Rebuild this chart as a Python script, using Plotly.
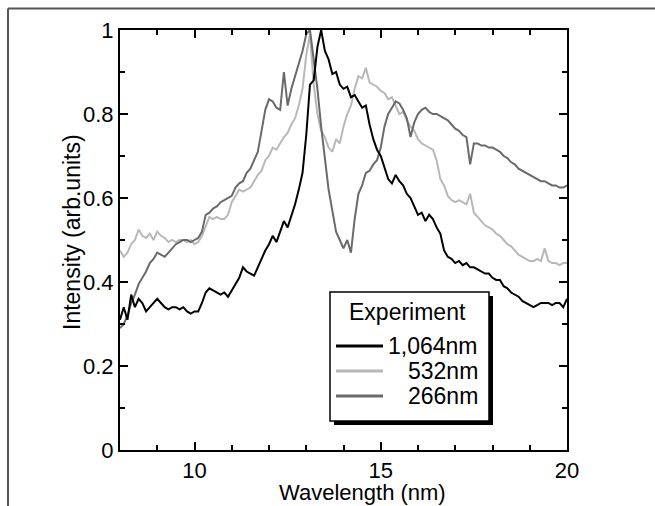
import numpy as np
import plotly.graph_objects as go

# Wavelength grid (nm)
wavelength = np.round(np.arange(8.0, 20.0001, 0.1), 2)

# Series values (normalised intensity)
i_1064 = [0.31, 0.34, 0.31, 0.37, 0.34, 0.36, 0.35, 0.33, 0.34, 0.35,
          0.36, 0.35, 0.34, 0.335, 0.34, 0.34, 0.335, 0.34, 0.33, 0.325,
          0.33, 0.33, 0.35, 0.375, 0.385, 0.38, 0.375, 0.37, 0.375, 0.365,
          0.38, 0.395, 0.41, 0.435, 0.425, 0.42, 0.415, 0.435, 0.455, 0.475,
          0.49, 0.51, 0.495, 0.52, 0.545, 0.53, 0.555, 0.585, 0.62, 0.66,
          0.75, 0.87, 0.88, 0.96, 1.0, 0.95, 0.93, 0.895, 0.9, 0.87,
          0.86, 0.865, 0.84, 0.845, 0.83, 0.815, 0.82, 0.775, 0.74, 0.715,
          0.7, 0.675, 0.645, 0.635, 0.655, 0.64, 0.63, 0.61, 0.6, 0.58,
          0.56, 0.565, 0.545, 0.56, 0.55, 0.53, 0.515, 0.475, 0.46, 0.455,
          0.445, 0.45, 0.44, 0.445, 0.435, 0.435, 0.43, 0.425, 0.42, 0.42,
          0.41, 0.405, 0.405, 0.39, 0.385, 0.375, 0.37, 0.365, 0.355, 0.35,
          0.345, 0.34, 0.345, 0.35, 0.35, 0.35, 0.345, 0.35, 0.35, 0.34,
          0.36]

i_532 = [0.475, 0.46, 0.47, 0.49, 0.5, 0.525, 0.51, 0.505, 0.515, 0.5,
         0.52, 0.51, 0.505, 0.495, 0.5, 0.495, 0.5, 0.5, 0.495, 0.5,
         0.49, 0.495, 0.51, 0.535, 0.555, 0.55, 0.555, 0.55, 0.55, 0.56,
         0.59, 0.605, 0.62, 0.615, 0.62, 0.625, 0.64, 0.655, 0.665, 0.69,
         0.7, 0.72, 0.715, 0.73, 0.745, 0.755, 0.775, 0.79, 0.82, 0.86,
         0.94, 0.99, 0.87, 0.8, 0.76, 0.745, 0.72, 0.71, 0.74, 0.73,
         0.77, 0.8, 0.82, 0.86, 0.89, 0.885, 0.91, 0.875, 0.87, 0.865,
         0.855, 0.85, 0.835, 0.84, 0.82, 0.8, 0.805, 0.785, 0.77, 0.76,
         0.74, 0.73, 0.725, 0.72, 0.715, 0.69, 0.645, 0.63, 0.605, 0.595,
         0.59, 0.595, 0.59, 0.585, 0.61, 0.565, 0.555, 0.545, 0.535, 0.53,
         0.525, 0.515, 0.51, 0.5, 0.49, 0.485, 0.475, 0.465, 0.46, 0.455,
         0.45, 0.45, 0.455, 0.45, 0.48, 0.45, 0.445, 0.445, 0.44, 0.445,
         0.445]

i_266 = [0.29, 0.3, 0.32, 0.35, 0.37, 0.395, 0.41, 0.425, 0.445, 0.455,
         0.47, 0.465, 0.46, 0.47, 0.48, 0.49, 0.495, 0.5, 0.5, 0.495,
         0.5, 0.505, 0.52, 0.56, 0.565, 0.575, 0.58, 0.59, 0.595, 0.6,
         0.605, 0.625, 0.635, 0.64, 0.66, 0.67, 0.69, 0.71, 0.76, 0.81,
         0.835, 0.83, 0.815, 0.81, 0.9, 0.82, 0.86, 0.89, 0.92, 0.95,
         0.99, 1.0, 0.93, 0.86, 0.77, 0.7, 0.62, 0.57, 0.52, 0.5,
         0.48, 0.5, 0.47, 0.55, 0.61, 0.63, 0.66, 0.665, 0.68, 0.69,
         0.72, 0.77, 0.8, 0.815, 0.83, 0.825, 0.81, 0.79, 0.745, 0.78,
         0.8, 0.81, 0.815, 0.805, 0.8, 0.8, 0.795, 0.79, 0.785, 0.775,
         0.765, 0.76, 0.75, 0.745, 0.68, 0.73, 0.73, 0.725, 0.725, 0.72,
         0.72, 0.715, 0.71, 0.7, 0.695, 0.685, 0.68, 0.67, 0.665, 0.66,
         0.655, 0.65, 0.645, 0.64, 0.64, 0.635, 0.63, 0.63, 0.625, 0.625,
         0.63]

series_names = ["1,064nm", "532nm", "266nm"]
series_colors = ["#000000", "#b8b8b8", "#6a6a6a"]
x_ticks = [10, 15, 20]
y_ticks = [0, 0.2, 0.4, 0.6, 0.8, 1]
y_tick_text = ["0", "0.2", "0.4", "0.6", "0.8", "1"]

FONT = "Liberation Sans, Arial, sans-serif"
FS = 23
FS_TICK = 22

fig = go.Figure()
for name, vals, col in [(series_names[1], i_532, series_colors[1]),
                        (series_names[2], i_266, series_colors[2]),
                        (series_names[0], i_1064, series_colors[0])]:
    fig.add_trace(go.Scatter(x=wavelength, y=vals, mode="lines", name=name,
                             line=dict(color=col, width=2), showlegend=False))

W, H = 655, 506
L, R, T, B = 120, 88, 30, 56
pw, ph = W - L - R, H - T - B

def px(xp):
    return (xp - L) / pw

def py(yp):
    return (H - B - yp) / ph

shapes = []
# outer frame (top and left)
shapes.append(dict(type="line", xref="paper", yref="paper", x0=px(8), x1=px(656),
                   y0=py(8.5), y1=py(8.5), line=dict(color="#555555", width=2)))
shapes.append(dict(type="line", xref="paper", yref="paper", x0=px(8), x1=px(8),
                   y0=py(8.5), y1=py(507), line=dict(color="#555555", width=2)))
# legend shadow and box
shapes.append(dict(type="rect", xref="paper", yref="paper", x0=px(334), x1=px(493),
                   y0=py(296), y1=py(425), fillcolor="black", line=dict(width=0)))
shapes.append(dict(type="rect", xref="paper", yref="paper", x0=px(330), x1=px(489),
                   y0=py(292), y1=py(421), fillcolor="white",
                   line=dict(color="black", width=1.5)))
rows_y = [346, 371, 396]
annotations = [dict(text="Experiment", xref="paper", yref="paper", x=px(407), y=py(312),
                    showarrow=False, font=dict(size=FS, color="black", family=FONT),
                    xanchor="center", yanchor="middle")]
for nm, col, ry in zip(series_names, series_colors, rows_y):
    shapes.append(dict(type="line", xref="paper", yref="paper", x0=px(336), x1=px(383),
                       y0=py(ry), y1=py(ry), line=dict(color=col, width=3)))
    annotations.append(dict(text=nm, xref="paper", yref="paper", x=px(480), y=py(ry),
                            showarrow=False, xanchor="right", yanchor="middle",
                            font=dict(size=FS, color="black", family=FONT)))

annotations.append(dict(text="Wavelength (nm)", xref="paper", yref="paper",
                        x=px(362), y=py(492), showarrow=False, xanchor="center",
                        yanchor="middle", font=dict(size=22, color="black", family=FONT)))
annotations.append(dict(text="Intensity (arb.units)", xref="paper", yref="paper",
                        x=px(72), y=py(232), showarrow=False, xanchor="center",
                        yanchor="middle", textangle=-90,
                        font=dict(size=FS, color="black", family=FONT)))

axis_common = dict(showline=True, linecolor="black", linewidth=2, mirror="ticks",
                   ticks="inside", ticklen=8, tickwidth=2, tickcolor="black",
                   showgrid=False, zeroline=False,
                   tickfont=dict(size=FS_TICK, color="black", family=FONT))

fig.update_layout(
    width=W, height=H,
    margin=dict(l=L, r=R, t=T, b=B, pad=0),
    paper_bgcolor="white", plot_bgcolor="white",
    font=dict(family=FONT, color="black"),
    shapes=shapes, annotations=annotations,
    xaxis=dict(range=[8, 20], tickvals=x_ticks,
               minor=dict(dtick=1, tick0=8, ticks="inside", ticklen=5,
                          tickwidth=2, tickcolor="black", showgrid=False),
               **axis_common),
    yaxis=dict(range=[0, 1], tickvals=y_ticks, ticktext=y_tick_text,
               minor=dict(dtick=0.1, tick0=0, ticks="inside", ticklen=5,
                          tickwidth=2, tickcolor="black", showgrid=False),
               **axis_common),
)

fig.write_html("out.html", config={"displayModeBar": False})

# remove the browser's default page margin so the figure sits at (0, 0)
with open("out.html", "r", encoding="utf-8") as f:
    html = f.read()
html = html.replace("<head>", "<head><style>html,body{margin:0;padding:0;overflow:hidden;}</style>", 1)
with open("out.html", "w", encoding="utf-8") as f:
    f.write(html)
